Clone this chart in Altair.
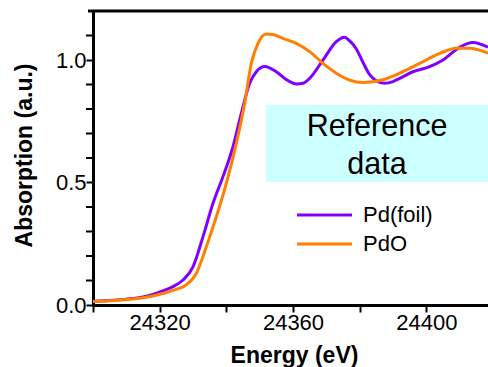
import altair as alt
import pandas as pd

# ---- data ----
foil_E = [24300, 24305, 24310, 24315, 24318, 24321, 24324, 24327, 24330, 24333, 24336, 24339,
          24342, 24344.5, 24347, 24349, 24351.5, 24355, 24358, 24361, 24363, 24365, 24369, 24373,
          24375.4, 24377, 24379, 24381, 24383, 24385, 24387.4, 24390, 24392, 24396, 24401, 24405,
          24410, 24414, 24418.5]
foil_A = [0.015, 0.018, 0.024, 0.033, 0.043, 0.058, 0.075, 0.102, 0.156, 0.279, 0.415, 0.524,
          0.646, 0.782, 0.905, 0.952, 0.973, 0.952, 0.920, 0.902, 0.905, 0.925, 1.000, 1.075,
          1.093, 1.078, 1.045, 0.990, 0.940, 0.915, 0.905, 0.912, 0.925, 0.952, 0.973, 1.000,
          1.052, 1.071, 1.052]

pdo_E = [24300, 24305, 24310, 24315, 24318, 24321, 24324, 24328, 24331, 24334, 24337, 24340,
         24343, 24345.5, 24347.5, 24349.5, 24352, 24354, 24357, 24361, 24365, 24369, 24373,
         24377, 24381, 24386, 24392, 24398, 24404, 24409, 24413, 24418.5]
pdo_A = [0.014, 0.017, 0.022, 0.030, 0.037, 0.047, 0.060, 0.082, 0.129, 0.238, 0.360, 0.497,
         0.660, 0.823, 0.986, 1.068, 1.106, 1.104, 1.088, 1.068, 1.034, 0.986, 0.946,
         0.918, 0.908, 0.916, 0.946, 0.986, 1.027, 1.048, 1.048, 1.028]

series_names = ["Pd(foil)", "PdO"]
series_colors = ["#7F00FF", "#FF7F00"]

x_ticks = [24300, 24320, 24340, 24360, 24380, 24400]
y_labels = [0.0, 0.5, 1.0]
y_minor = [0.1, 0.2, 0.3, 0.4, 0.6, 0.7, 0.8, 0.9, 1.1]

box_E = [24351.9]
box_E2 = [24418.5]
box_A = [0.816]
box_A2 = [0.502]
note_text = ["Reference\ndata"]
note_E = [24385.2]
note_A = [0.69]

# legend rows (pixel offsets inside the plot area)
legend_y = [204, 233]

X_DOMAIN = [24300, 24418.5]
Y_DOMAIN = [0, 1.2]
FONT = "Liberation Sans"

df = pd.concat([
    pd.DataFrame({"E": foil_E, "A": foil_A, "s": series_names[0]}),
    pd.DataFrame({"E": pdo_E, "A": pdo_A, "s": series_names[1]}),
])

xscale = alt.Scale(domain=X_DOMAIN, nice=False, zero=False)
yscale = alt.Scale(domain=Y_DOMAIN, nice=False, zero=False)
cscale = alt.Scale(domain=series_names, range=series_colors)

box = alt.Chart(pd.DataFrame({"E": box_E, "E2": box_E2, "A": box_A, "A2": box_A2})).mark_rect(
    color="#CCFFFF"
).encode(
    x=alt.X("E:Q", scale=xscale),
    x2="E2:Q",
    y=alt.Y("A:Q", scale=yscale),
    y2="A2:Q",
)

note = alt.Chart(pd.DataFrame({"E": note_E, "A": note_A, "t": note_text})).mark_text(
    font=FONT, fontSize=30.5, color="black", align="center", baseline="alphabetic",
    lineBreak="\n", lineHeight=38
).encode(
    x=alt.X("E:Q", scale=xscale),
    y=alt.Y("A:Q", scale=yscale),
    text="t:N",
)

lines = alt.Chart(df).mark_line(strokeWidth=3, interpolate="monotone", clip=True).encode(
    x=alt.X("E:Q", scale=xscale, title="Energy (eV)",
            axis=alt.Axis(values=x_ticks, format="d", labelOverlap=False,
                          labelExpr="datum.value % 40 == 0 ? datum.label : ''",
                          titleX=201, titleY=57, titleBaseline="alphabetic")),
    y=alt.Y("A:Q", scale=yscale, title="Absorption (a.u.)",
            axis=alt.Axis(values=y_labels, format=".1f", labelOverlap=False,
                          titleX=-69, titleY=144, titleBaseline="middle")),
    color=alt.Color("s:N", scale=cscale, legend=None),
)

minor = alt.Chart(pd.DataFrame({"A": y_minor})).mark_rule(color="black", strokeWidth=2).encode(
    x=alt.value(-7), x2=alt.value(0), y=alt.Y("A:Q", scale=yscale),
)

leg_df = pd.DataFrame({"s": series_names, "ly": legend_y})
leg_lines = alt.Chart(leg_df).mark_rule(strokeWidth=3).encode(
    x=alt.value(204), x2=alt.value(259), y=alt.Y("ly:Q", scale=None),
    color=alt.Color("s:N", scale=cscale, legend=None),
)
leg_text = alt.Chart(leg_df).mark_text(
    font=FONT, fontSize=22, color="black", align="left", baseline="middle"
).encode(
    x=alt.value(270), y=alt.Y("ly:Q", scale=None), text="s:N",
)

topline = alt.Chart(pd.DataFrame({"d": [0]})).mark_rule(color="black", strokeWidth=3).encode(
    x=alt.value(-5), x2=alt.value(395), y=alt.value(0)
)

chart = alt.layer(box, note, lines, minor, leg_lines, leg_text, topline).properties(
    width=395, height=294,
    autosize=alt.AutoSizeParams(type="none"),
    padding={"left": 93, "top": 11, "right": 0, "bottom": 62},
).configure_view(stroke=None).configure_axis(
    grid=False, domainColor="black", domainWidth=3, tickColor="black", tickWidth=2,
    tickSize=7, labelFont=FONT, labelFontSize=22, labelColor="black", labelPadding=0,
    titleFont=FONT, titleFontSize=23, titleFontWeight="bold", titleColor="black",
    labelFlush=False,
)

chart.save("out.html", embed_options={"renderer": "svg", "actions": False})
